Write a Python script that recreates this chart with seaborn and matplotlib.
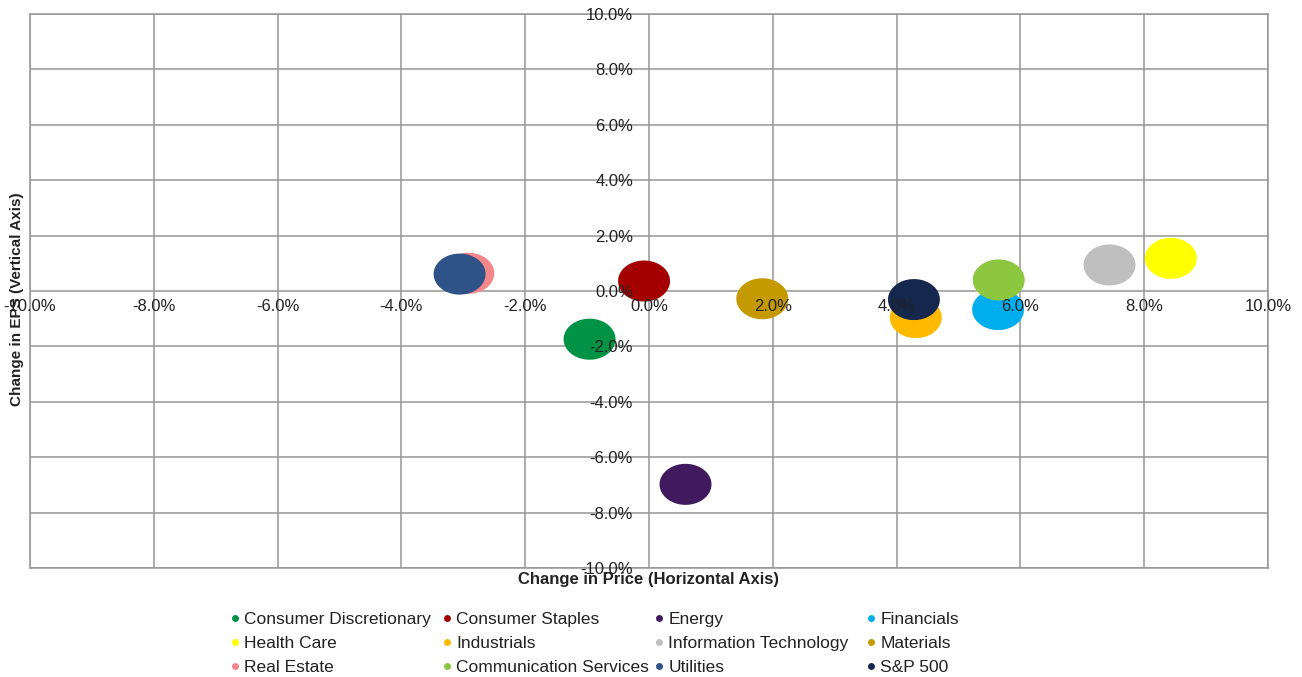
import numpy as np
import pandas as pd
import matplotlib
matplotlib.use("Agg")
import matplotlib.pyplot as plt
from matplotlib.path import Path
from matplotlib.lines import Line2D
from matplotlib.ticker import FuncFormatter
import seaborn as sns

# ---- data ----
sectors = ["Consumer Discretionary", "Consumer Staples", "Energy", "Financials",
           "Health Care", "Industrials", "Information Technology", "Materials",
           "Real Estate", "Communication Services", "Utilities", "S&P 500"]
price_change = [-0.96, -0.08, 0.59, 5.64, 8.43, 4.31, 7.44, 1.83, -2.92, 5.65, -3.06, 4.28]
eps_change = [-1.74, 0.36, -6.98, -0.67, 1.18, -0.96, 0.94, -0.28, 0.64, 0.40, 0.61, -0.31]
colors = ["#009245", "#A50000", "#41195E", "#00AEEF", "#FFFF00", "#FFBA00",
          "#BFBFBF", "#C49A00", "#F4858A", "#8DC63F", "#2F5288", "#15274D"]
ticks = list(range(-10, 11, 2))

df = pd.DataFrame({"Sector": sectors, "Price": price_change, "EPS": eps_change})
palette = dict(zip(sectors, colors))

sns.set_style("white")
plt.rcParams["font.family"] = ["Liberation Sans", "DejaVu Sans"]

W, H = 1302, 677
fig = plt.figure(figsize=(W / 100, H / 100), dpi=100)
rect = [30 / W, 1 - 568 / H, 1238 / W, 554 / H]

grid_c = "#969696"

# background axes: grid + frame (behind the markers)
ax_bg = fig.add_axes(rect, zorder=0)
ax_bg.set_xlim(-10, 10)
ax_bg.set_ylim(-10, 10)
ax_bg.set_xticks(ticks)
ax_bg.set_yticks(ticks)
ax_bg.tick_params(length=0, labelbottom=False, labelleft=False)
ax_bg.grid(True, color=grid_c, linewidth=1.1)
for s in ax_bg.spines.values():
    s.set_color(grid_c)
    s.set_linewidth(1.1)

# main axes: markers + tick labels (labels drawn over markers)
ax = fig.add_axes(rect, zorder=1)
ax.patch.set_visible(False)

t = np.linspace(0, 2 * np.pi, 64)
ellipse = Path(np.column_stack([np.cos(t), 0.79 * np.sin(t)]))

sns.scatterplot(data=df, x="Price", y="EPS", hue="Sector", palette=palette,
                marker=ellipse, s=1400, linewidth=0, legend=False, ax=ax, zorder=1)

ax.set_xlim(-10, 10)
ax.set_ylim(-10, 10)
ax.set_xticks(ticks)
ax.set_yticks(ticks)
fmt = FuncFormatter(lambda v, p: f"{v:.1f}%")
ax.xaxis.set_major_formatter(fmt)
ax.yaxis.set_major_formatter(fmt)
ax.grid(False)
ax.set_axisbelow(False)
for s in ["top", "right"]:
    ax.spines[s].set_visible(False)
ax.spines["left"].set_position(("data", 0))
ax.spines["bottom"].set_position(("data", 0))
ax.spines["left"].set_color("none")
ax.spines["bottom"].set_color("none")

ax.tick_params(axis="x", length=0, pad=6, labelsize=12, labelcolor="#222222")
ax.tick_params(axis="y", length=0, pad=11.5, labelsize=12, labelcolor="#222222")

ax.set_xlabel("Change in Price (Horizontal Axis)", fontsize=12, fontweight="bold",
              color="#222222")
ax.xaxis.set_label_coords(0.5, -0.021)
ax.xaxis.label.set_va("center")
ax.set_ylabel("Change in EPS (Vertical Axis)", fontsize=11, fontweight="bold",
              color="#222222")
ax.yaxis.set_label_coords(-0.0105, 0.485)
ax.yaxis.label.set_va("center")

# legend: 4 columns, 3 rows, row-major order
col_x = [235, 447, 659, 871]
for c in range(4):
    idx = [c, c + 4, c + 8]
    handles = [Line2D([], [], linestyle="none", marker="o", markersize=5,
                      markerfacecolor=colors[i], markeredgewidth=0) for i in idx]
    labels = [sectors[i] for i in idx]
    fig.legend(handles, labels, loc="upper left",
               bbox_to_anchor=((col_x[c] - 5) / W, 1 - 612 / H),
               frameon=False, borderpad=0, borderaxespad=0,
               handlelength=0.58, handletextpad=0.25, labelspacing=0.5,
               prop={"size": 12.5}, labelcolor="#222222")

fig.savefig("out.png", dpi=100, facecolor="white")
